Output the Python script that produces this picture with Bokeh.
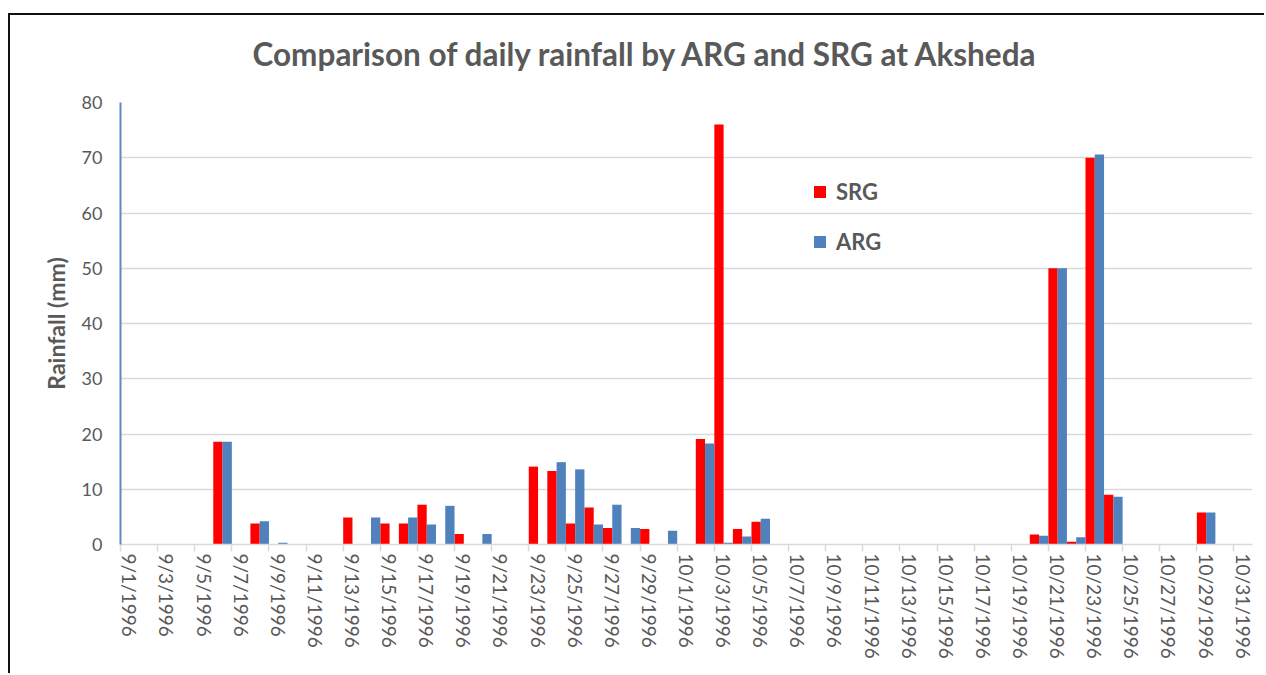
import pandas as pd
from bokeh.plotting import figure
from bokeh.models import (Range1d, FixedTicker, LinearAxis, Legend, LegendItem,
                          ColumnDataSource, Title)
from bokeh.transform import dodge
from bokeh.embed import file_html
from bokeh.resources import INLINE

# ---------------- data ----------------
first_day = "9/1/1996"
n_days = 61
rain_dates = ["9/6/1996", "9/8/1996", "9/9/1996", "9/13/1996", "9/14/1996",
              "9/15/1996", "9/16/1996", "9/17/1996", "9/18/1996", "9/19/1996",
              "9/20/1996", "9/23/1996", "9/24/1996", "9/25/1996", "9/26/1996",
              "9/27/1996", "9/28/1996", "9/29/1996", "9/30/1996", "10/2/1996",
              "10/3/1996", "10/4/1996", "10/5/1996", "10/20/1996", "10/21/1996",
              "10/22/1996", "10/23/1996", "10/24/1996", "10/29/1996"]
srg = [18.6, 3.8, 0, 4.9, 0, 3.8, 3.8, 7.2, 0, 1.9, 0, 14.1, 13.3, 3.8, 6.7,
       3.0, 0, 2.8, 0, 19.1, 76.0, 2.8, 4.1, 1.8, 50.0, 0.5, 70.0, 9.0, 5.8]
arg = [18.6, 4.2, 0.3, 0, 4.9, 0, 4.9, 3.6, 7.0, 0, 1.9, 0, 14.9, 13.6, 3.6,
       7.2, 3.0, 0, 2.5, 18.3, 0.3, 1.45, 4.65, 1.6, 50.0, 1.3, 70.6, 8.65, 5.8]
tick_labels = ["9/1/1996", "9/3/1996", "9/5/1996", "9/7/1996", "9/9/1996",
               "9/11/1996", "9/13/1996", "9/15/1996", "9/17/1996", "9/19/1996",
               "9/21/1996", "9/23/1996", "9/25/1996", "9/27/1996", "9/29/1996",
               "10/1/1996", "10/3/1996", "10/5/1996", "10/7/1996", "10/9/1996",
               "10/11/1996", "10/13/1996", "10/15/1996", "10/17/1996", "10/19/1996",
               "10/21/1996", "10/23/1996", "10/25/1996", "10/27/1996", "10/29/1996",
               "10/31/1996"]
y_ticks = [0, 10, 20, 30, 40, 50, 60, 70, 80]
title_text = "Comparison  of daily rainfall by ARG and SRG at Aksheda"
y_title = "Rainfall (mm)"
series_names = ["SRG", "ARG"]

# ---------------- style ----------------
FONT = "Lato"
TXT = "#595959"
GRID = "#D9D9D9"
RED = "#FF0000"
BLUE = "#4F81BD"

t0 = pd.Timestamp(pd.to_datetime(first_day))
day_of = lambda s: (pd.to_datetime(s) - t0).days
src = ColumnDataSource(dict(day=[day_of(d) for d in rain_dates], srg=srg, arg=arg))
tick_pos = [day_of(s) for s in tick_labels]

p = figure(width=1264, height=673, output_backend="svg", toolbar_location=None,
           x_range=Range1d(-0.5, n_days - 0.5), y_range=Range1d(0, 80),
           min_border_left=120, min_border_right=12, min_border_top=102,
           min_border_bottom=129, background_fill_color="white",
           border_fill_color=None, title=None)
p.outline_line_color = None
# chart-area frame: dark rule along the top and left edges (the rest is cut off)
p.styles = {"background": "linear-gradient(#111, #111) 8px 13px / calc(100% - 8px) 2px no-repeat, "
                          "linear-gradient(#111, #111) 8px 13px / 2px calc(100% - 13px) no-repeat, "
                          "#ffffff"}

r1 = p.vbar(x=dodge("day", -0.25, range=p.x_range), top="srg", width=0.5,
            source=src, fill_color=RED, line_color=None)
r2 = p.vbar(x=dodge("day", 0.25, range=p.x_range), top="arg", width=0.5,
            source=src, fill_color=BLUE, line_color=None)

# grid
p.xgrid.visible = False
p.ygrid.ticker = FixedTicker(ticks=y_ticks)
p.ygrid.grid_line_color = GRID
p.ygrid.grid_line_width = 1.5

# y axis
ya = p.yaxis[0]
ya.ticker = FixedTicker(ticks=y_ticks)
ya.axis_line_color = "#5B8BCB"
ya.axis_line_width = 2
ya.major_tick_out = 0
ya.major_tick_in = 0
ya.minor_tick_line_color = None
ya.major_label_text_font = FONT
ya.major_label_text_font_size = "18px"
ya.major_label_text_color = TXT
ya.major_label_standoff = 18
ya.axis_label = y_title
ya.axis_label_text_font = FONT
ya.axis_label_text_font_size = "23px"
ya.axis_label_text_font_style = "bold"
ya.axis_label_text_color = TXT
ya.axis_label_standoff = 9

# x axis: tick marks at day boundaries
xa = p.xaxis[0]
xa.ticker = FixedTicker(ticks=[t - 0.5 for t in tick_pos])
xa.axis_line_color = GRID
xa.axis_line_width = 1.5
xa.major_tick_line_color = GRID
xa.major_tick_line_width = 1.5
xa.major_tick_out = 7
xa.major_tick_in = 0
xa.minor_tick_line_color = None
xa.major_label_overrides = {t - 0.5: "" for t in tick_pos}
xa.major_label_text_font_size = "1px"
xa.major_label_standoff = 0

# x axis: date labels at day centres
xb = LinearAxis(ticker=FixedTicker(ticks=tick_pos),
                major_label_overrides={t: s for t, s in zip(tick_pos, tick_labels)})
xb.axis_line_color = None
xb.major_tick_line_color = None
xb.major_tick_out = 0
xb.major_tick_in = 0
xb.minor_tick_line_color = None
xb.major_label_orientation = "vertical"
xb.major_label_text_font = FONT
xb.major_label_text_font_size = "19px"
xb.major_label_text_color = TXT
xb.major_label_standoff = 2
p.add_layout(xb, "below")

# title
p.add_layout(Title(text=title_text, align="left", offset=132, standoff=56,
                   vertical_align="top",
                   text_font=FONT, text_font_size="31.5px", text_font_style="bold",
                   text_color=TXT), "above")

# legend
leg = Legend(items=[LegendItem(label=series_names[0], renderers=[r1]),
                    LegendItem(label=series_names[1], renderers=[r2])],
             location=(692, 289), orientation="vertical",
             glyph_width=15, glyph_height=15, label_standoff=9,
             spacing=23, padding=0, margin=0,
             label_text_font=FONT, label_text_font_size="22px",
             label_text_font_style="bold", label_text_color=TXT,
             border_line_color=None, background_fill_alpha=0)
p.add_layout(leg, "center")

open("out.html", "w").write(file_html(p, INLINE))
